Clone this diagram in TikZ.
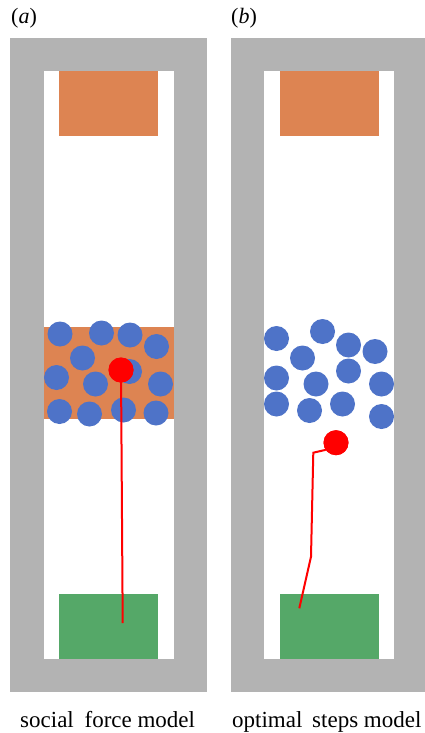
\documentclass[tikz,border=0pt]{standalone}
\usepackage{fontspec}
\setmainfont{Liberation Serif}
\definecolor{wallgray}{HTML}{B3B3B3}
\definecolor{zoneorange}{HTML}{DD8452}
\definecolor{pedblue}{HTML}{4E73C8}
\definecolor{goalgreen}{HTML}{55A868}
\definecolor{pedred}{HTML}{FF0000}
\begin{document}
\begin{tikzpicture}[x=1pt,y=-1pt,
  wall/.style={fill=wallgray,draw=none},
  zone/.style={fill=zoneorange,draw=none},
  goal/.style={fill=goalgreen,draw=none},
  ped/.style={circle,fill=pedblue,draw=none,minimum size=25pt,inner sep=0pt},
  agent/.style={circle,fill=pedred,draw=none,minimum size=25pt,inner sep=0pt},
  track/.style={draw=pedred,line width=2pt},
  lbl/.style={font=\fontsize{22}{26}\selectfont,inner sep=0pt},
  captiontext/.style={font=\fontsize{23}{27}\selectfont,inner sep=0pt,anchor=base west}]
\useasboundingbox (0,0) rectangle (425,733);
% ---------- panel (a)
\fill[wall] (10,38) rectangle (207,71);
\fill[wall] (10,38) rectangle (44,692);
\fill[wall] (174,38) rectangle (207,692);
\fill[wall] (10,659) rectangle (207,692);
\fill[zone] (59,71) rectangle (158,136);
\fill[zone] (44,327) rectangle (174,419);
\fill[goal] (59,594) rectangle (158,659);
\node[ped] (a1) at (60,334) {};
\node[ped] (a2) at (101.5,333) {};
\node[ped] (a3) at (130,335) {};
\node[ped] (a4) at (156.5,346.5) {};
\node[ped] (a5) at (82.5,358) {};
\node[ped] (a6) at (129.5,371.5) {};
\node[ped] (a7) at (56.5,377.5) {};
\node[ped] (a8) at (95.5,384) {};
\node[ped] (a9) at (160.5,384) {};
\node[ped] (a10) at (59.5,411.5) {};
\node[ped] (a11) at (89.5,414) {};
\node[ped] (a12) at (123.5,410) {};
\node[ped] (a13) at (156,413) {};
\coordinate (sa) at (122.7,623);
\node[agent] (ra) at (121,370) {};
\draw[track] (sa) -- (ra.center);
\node[agent] at (ra) {};
% ---------- panel (b)
\fill[wall] (231,38) rectangle (428,71);
\fill[wall] (231,38) rectangle (264,692);
\fill[wall] (394,38) rectangle (428,692);
\fill[wall] (231,659) rectangle (428,692);
\fill[zone] (280,71) rectangle (379,136);
\fill[goal] (280,594) rectangle (379,659);
\node[ped] (b1) at (276.5,338.5) {};
\node[ped] (b2) at (322.5,331.5) {};
\node[ped] (b3) at (348.5,345) {};
\node[ped] (b4) at (375,351.5) {};
\node[ped] (b5) at (302.5,358) {};
\node[ped] (b6) at (276.5,378) {};
\node[ped] (b7) at (348.5,371) {};
\node[ped] (b8) at (316,384) {};
\node[ped] (b9) at (381.5,384) {};
\node[ped] (b10) at (276.5,404) {};
\node[ped] (b11) at (309.5,410.5) {};
\node[ped] (b12) at (342.5,404) {};
\node[ped] (b13) at (381.5,416.5) {};
\coordinate (sb) at (299.3,608.3);
\coordinate (kb1) at (311,556.7);
\coordinate (kb2) at (313.3,452.7);
\coordinate (kb3) at (325,450);
\node[agent] (rb) at (336,442.7) {};
\draw[track] (sb) -- (kb1) -- (kb2) -- (kb3) -- (rb.center);
\node[agent] at (rb) {};
% ---------- labels
\node[lbl,anchor=north west] (la) at (11,8) {(\textit{a})};
\node[lbl,anchor=north west] (lb) at (231,8) {(\textit{b})};
\node[captiontext] (ca) at (20,727) {social\hspace{5pt} force model};
\node[captiontext] (cb) at (232,727) {optimal\hspace{4pt} steps model};
\end{tikzpicture}
\end{document}
